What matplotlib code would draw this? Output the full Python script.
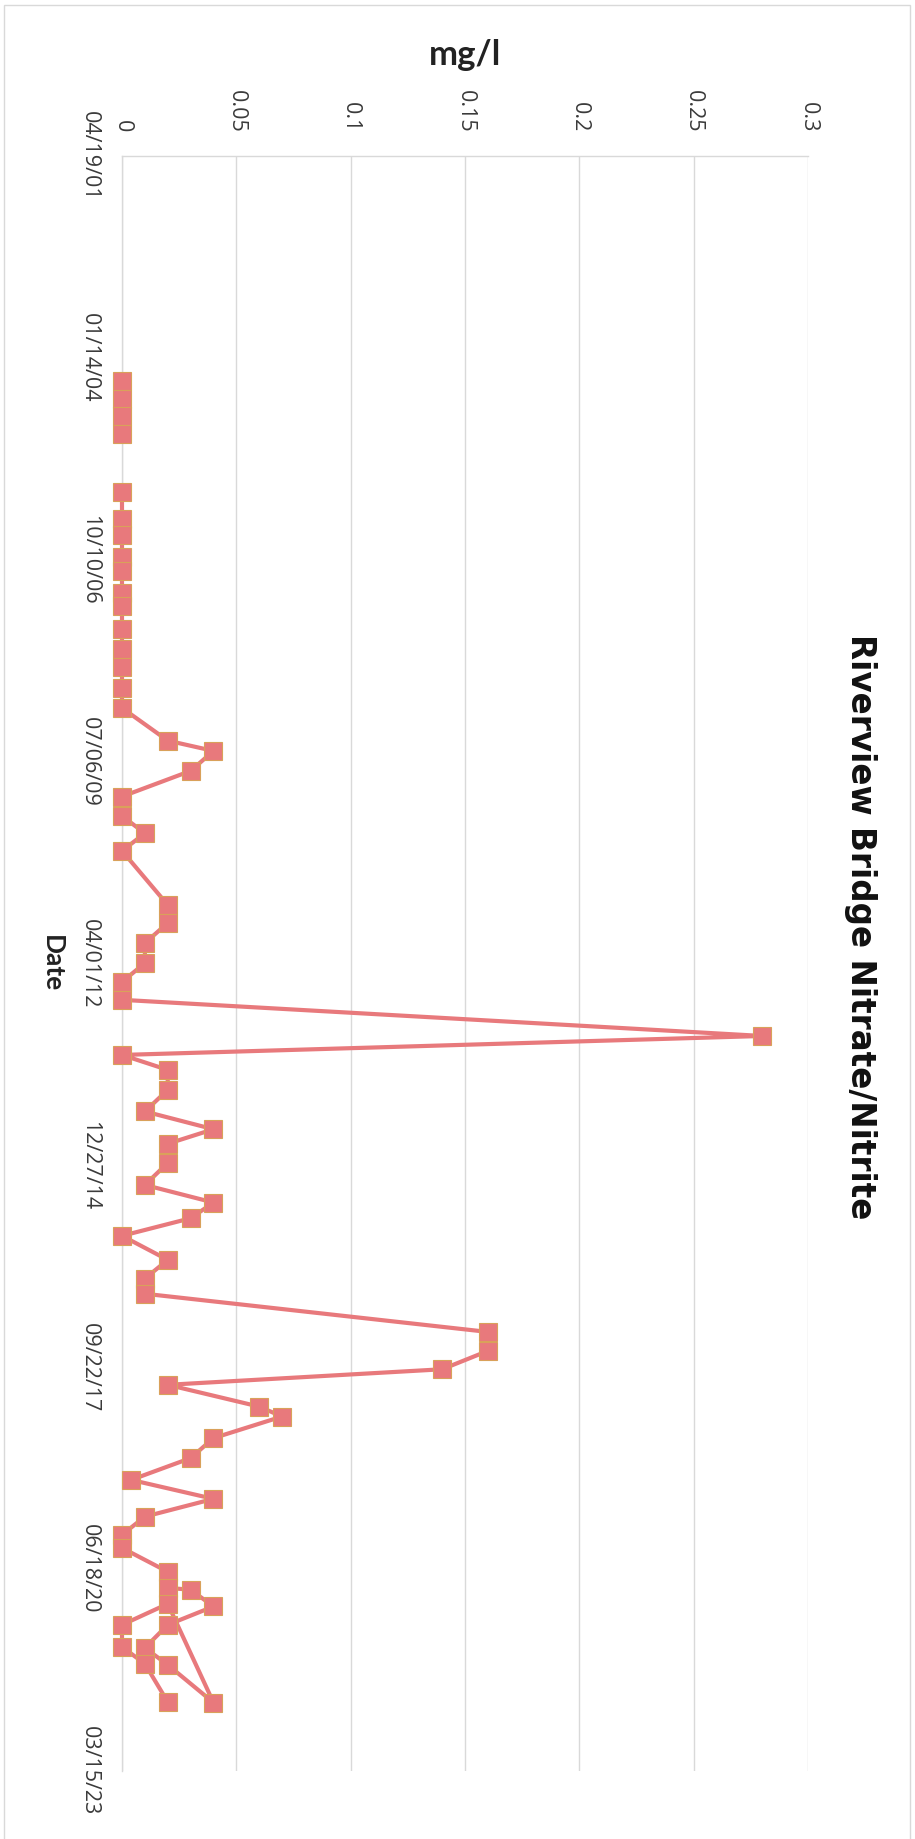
import matplotlib
matplotlib.use("Agg")
import matplotlib.pyplot as plt
from matplotlib.patches import Rectangle
import numpy as np
import pandas as pd

# sampling dates and nitrate/nitrite results, mg/l
# None = no sample, breaks the line
sample_dates = [
    "2004-05-09", "2004-08-05", "2004-10-30", "2005-01-25", "2005-06-15",
    "2005-11-08", "2006-03-20", "2006-06-08", "2006-09-26", "2006-12-04",
    "2007-03-22", "2007-05-27", "2007-09-18", "2007-12-26", "2008-03-24",
    "2008-07-06", "2008-10-13", "2009-03-24", "2009-05-14", "2009-08-21",
    "2009-12-26", "2010-04-01", "2010-06-26", "2010-09-21", "2011-06-16",
    "2011-09-13", "2011-12-22", "2012-03-30", "2012-07-01", "2012-09-28",
    "2013-03-26", "2013-06-28", "2013-09-10", "2013-12-18", "2014-04-04",
    "2014-07-01", "2014-09-11", "2014-12-15", "2015-04-03", "2015-06-29",
    "2015-09-15", "2015-12-11", "2016-04-08", "2016-07-10", "2016-09-23",
    "2017-03-31", "2017-07-03", "2017-10-02", "2017-12-18", "2018-04-05",
    "2018-05-24", "2018-09-08", "2018-12-16", "2019-04-03", "2019-07-06",
    "2019-10-02", "2019-12-31", "2020-03-05", "2020-07-01", "2020-09-19",
    "2020-09-28", "2020-12-20", "2021-03-21", "2021-07-13", "2021-10-05",
    "2022-04-10", "2020-12-07", "2021-03-21", "2021-07-08", "2021-09-30",
    "2022-04-07",
]
nitrate_mg_l = [
    0, 0, 0, 0, None,
    0, 0, 0, 0, 0,
    0, 0, 0, 0, 0,
    0, 0, 0.02, 0.04, 0.03,
    0, 0, 0.01, 0, 0.02,
    0.02, 0.01, 0.01, 0, 0,
    0.28, 0, 0.02, 0.02, 0.01,
    0.04, 0.02, 0.02, 0.01, 0.04,
    0.03, 0, 0.02, 0.01, 0.01,
    0.16, 0.16, 0.14, 0.02, 0.06,
    0.07, 0.04, 0.03, 0.004, 0.04,
    0.01, 0, 0, 0.02, 0.02,
    0.03, 0.04, 0.02, 0.01, 0.02,
    0.04, 0.02, 0, 0, 0.01,
    0.02,
]

date_tick_labels = ["04/19/01", "01/14/04", "10/10/06", "07/06/09", "04/01/12",
                    "12/27/14", "09/22/17", "06/18/20", "03/15/23"]
value_ticks = [0, 0.05, 0.1, 0.15, 0.2, 0.25, 0.3]
value_tick_labels = ["0", "0.05", "0.1", "0.15", "0.2", "0.25", "0.3"]

dates = pd.to_datetime(sample_dates)
vals = np.array([np.nan if v is None else v for v in nitrate_mg_l], dtype=float)
date_ticks = pd.to_datetime(date_tick_labels, format="%m/%d/%y")

W, H = 915, 1839
fig = plt.figure(figsize=(W / 100, H / 100), dpi=100)

# light chart border
fig.patches.append(Rectangle((4 / W, -0.01), 906 / W, 1.01 - 5 / H,
                             transform=fig.transFigure, fill=False,
                             edgecolor="#D9D9D9", lw=1))

# page is turned: values run left->right, dates run top->bottom
ax = fig.add_axes([122 / W, 1 - 1771 / H, 686 / W, 1615 / H])

line_col = "#E8797C"
ax.plot(vals, dates, color=line_col, lw=3, marker="s", ms=13.5,
        mfc=line_col, mec="#D9A15A", mew=0.8, clip_on=False, zorder=3)

ax.set_xlim(0, 0.3)
ax.set_ylim(date_ticks[-1], date_ticks[0])

tick_font = dict(family="Open Sans", size=15.5, color="#3a3a3a")
ax.xaxis.tick_top()
ax.set_xticks(value_ticks)
ax.set_xticklabels(value_tick_labels, rotation=-90, ha="center", va="bottom", **tick_font)
ax.set_yticks(date_ticks)
ax.set_yticklabels(date_tick_labels, rotation=-90, ha="right", va="center", **tick_font)
ax.tick_params(axis="x", length=0, pad=17)
ax.tick_params(axis="y", length=0, pad=16)

ax.grid(axis="x", color="#D9D9D9", lw=1)
ax.grid(axis="y", visible=False)
ax.set_axisbelow(True)
for side in ["right", "bottom"]:
    ax.spines[side].set_visible(False)
for side in ["top", "left"]:
    ax.spines[side].set_color("#D9D9D9")
    ax.spines[side].set_linewidth(1)

fig.text(465 / W, 1 - 55 / H, "mg/l", family="Lato", weight="bold", size=25,
         color="#222222", ha="center", va="center")
fig.text(52 / W, 1 - 964 / H, "Date", family="Lato", weight="bold", size=19,
         color="#222222", rotation=-90, ha="center", va="center")
fig.text(860 / W, 1 - 927 / H, "Riverview Bridge Nitrate/Nitrite",
         family="DejaVu Sans", weight="bold", size=23.5, color="#111111",
         rotation=-90, ha="center", va="center")

fig.savefig("out.png", dpi=100)
